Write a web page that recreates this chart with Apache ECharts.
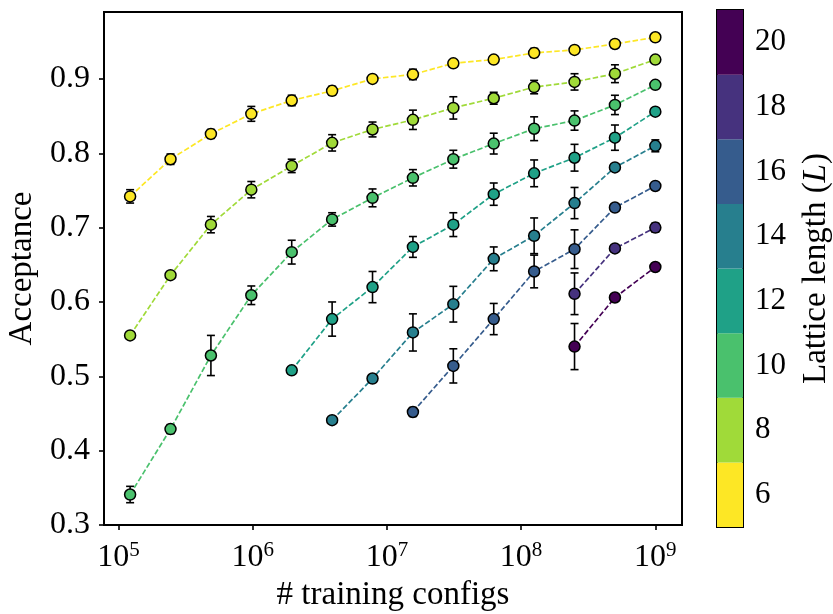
<!DOCTYPE html>
<html>
<head>
<meta charset="utf-8">
<script src="https://cdn.jsdelivr.net/npm/echarts@6/dist/echarts.min.js"></script>
<style>
  html, body { margin: 0; padding: 0; background: #fff; }
  #chart { width: 833px; height: 614px; }
</style>
</head>
<body>
<div id="chart"></div>
<script>
// number of training configs (x), shared by every lattice size
var configs = [122070, 244141, 488281, 976562, 1953125, 3906250, 7812500, 15625000,
  31250000, 62500000, 125000000, 250000000, 500000000, 1000000000]
var lattice = [6, 8, 10, 12, 14, 16, 18, 20]

// acceptance per lattice size, aligned with configs (null = not measured)
var acc6 = [0.742, 0.792, 0.826, 0.853, 0.871, 0.884, 0.900, 0.906, 0.921, 0.926, 0.935, 0.939, 0.947, 0.956]
var acc8 = [0.555, 0.636, 0.704, 0.751, 0.783, 0.814, 0.832, 0.845, 0.861, 0.874, 0.889, 0.896, 0.907, 0.926]
var acc10 = [0.341, 0.429, 0.528, 0.609, 0.667, 0.711, 0.740, 0.767, 0.792, 0.813, 0.833, 0.844, 0.865, 0.892]
var acc12 = [null, null, null, null, 0.508, 0.577, 0.620, 0.674, 0.704, 0.745, 0.773, 0.794, 0.821, 0.856]
var acc14 = [null, null, null, null, null, 0.441, 0.497, 0.559, 0.597, 0.658, 0.689, 0.733, 0.781, 0.810]
var acc16 = [null, null, null, null, null, null, null, 0.452, 0.514, 0.577, 0.641, 0.671, 0.727, 0.756]
var acc18 = [null, null, null, null, null, null, null, null, null, null, null, 0.611, 0.672, 0.700]
var acc20 = [null, null, null, null, null, null, null, null, null, null, null, 0.540, 0.606, 0.647]

// error bars (half width)
var err6 = [0.009, 0.007, 0.006, 0.010, 0.007, 0.006, 0.003, 0.007, 0.003, 0.003, 0.006, 0.004, 0.003, 0.003]
var err8 = [0.003, 0.004, 0.011, 0.011, 0.009, 0.011, 0.010, 0.013, 0.015, 0.008, 0.009, 0.011, 0.012, 0.003]
var err10 = [0.011, 0.006, 0.027, 0.0125, 0.016, 0.009, 0.012, 0.011, 0.012, 0.014, 0.016, 0.013, 0.013, 0.003]
var err12 = [null, null, null, null, 0.003, 0.023, 0.021, 0.014, 0.016, 0.015, 0.018, 0.018, 0.017, 0.003]
var err14 = [null, null, null, null, null, 0.003, 0.003, 0.025, 0.024, 0.016, 0.024, 0.021, 0.004, 0.008]
var err16 = [null, null, null, null, null, null, null, 0.006, 0.023, 0.021, 0.022, 0.026, 0.004, 0.003]
var err18 = [null, null, null, null, null, null, null, null, null, null, null, 0.028, 0.003, 0.006]
var err20 = [null, null, null, null, null, null, null, null, null, null, null, 0.031, 0.003, 0.003]

var accs = [acc6, acc8, acc10, acc12, acc14, acc16, acc18, acc20]
var errs = [err6, err8, err10, err12, err14, err16, err18, err20]

// viridis, 8 bins, L=6 (yellow) .. L=20 (purple)
var colors = ['#fde725', '#a0da39', '#4ac16d', '#1fa187', '#277f8e', '#365c8d', '#46327e', '#440154']

var font = 'Liberation Serif'

var chart = echarts.init(document.getElementById('chart'))

var series = []
lattice.forEach(function(L, i) {
  var pts = []
  var bars = []
  configs.forEach(function(x, j) {
    if (accs[i][j] == null) return
    pts.push([x, accs[i][j]])
    bars.push([x, accs[i][j], errs[i][j]])
  })
  series.push({
    type: 'custom',
    name: 'err' + L,
    xAxisIndex: 0,
    yAxisIndex: 0,
    z: 2,
    data: bars,
    renderItem: function(params, api) {
      var x = api.value(0)
      var y = api.value(1)
      var e = api.value(2)
      var lo = api.coord([x, y - e])
      var hi = api.coord([x, y + e])
      var st = { stroke: '#000', lineWidth: 1.6 }
      return {
        type: 'group',
        children: [
          { type: 'line', shape: { x1: lo[0], y1: lo[1], x2: hi[0], y2: hi[1] }, style: st },
          { type: 'line', shape: { x1: lo[0] - 4, y1: lo[1], x2: lo[0] + 4, y2: lo[1] }, style: st },
          { type: 'line', shape: { x1: hi[0] - 4, y1: hi[1], x2: hi[0] + 4, y2: hi[1] }, style: st }
        ]
      }
    }
  })
  series.push({
    type: 'line',
    name: 'L=' + L,
    xAxisIndex: 0,
    yAxisIndex: 0,
    z: 3 + i,
    data: pts,
    symbol: 'circle',
    symbolSize: 11,
    showSymbol: true,
    lineStyle: { color: colors[i], width: 1.7, type: [5.5, 2.4] },
    itemStyle: { color: colors[i], borderColor: '#000', borderWidth: 1.5 }
  })
})

// colorbar
series.push({
  type: 'bar',
  xAxisIndex: 1,
  yAxisIndex: 1,
  barCategoryGap: '0%',
  data: lattice.map(function(L, i) {
    return { value: 1, itemStyle: { color: colors[i] } }
  })
})

var option = {
  animation: false,
  grid: [
    { left: 104, right: 151, top: 12, bottom: 89, outerBoundsMode: 'none', show: true, borderColor: '#000', borderWidth: 2, backgroundColor: '#fff' },
    { left: 717, width: 26, top: 10, bottom: 87, outerBoundsMode: 'none', show: true, borderColor: '#000', borderWidth: 2 }
  ],
  xAxis: [
    {
      type: 'log',
      gridIndex: 0,
      logBase: 10,
      min: 78000,
      max: 1580000000,
      name: '# training configs',
      nameLocation: 'middle',
      nameGap: 47,
      nameTextStyle: { fontFamily: font, fontSize: 33, color: '#000' },
      axisLine: { show: true, lineStyle: { color: '#000', width: 2 } },
      axisTick: { show: true, length: 5, lineStyle: { color: '#000', width: 1.6 } },
      minorTick: { show: false },
      splitLine: { show: false },
      axisLabel: {
        showMinLabel: false,
        showMaxLabel: false,
        margin: 15,
        color: '#000',
        formatter: function(v) {
          return '{b|10}{s|' + Math.round(Math.log10(v)) + '}'
        },
        rich: {
          b: { fontFamily: font, fontSize: 32, color: '#000' },
          s: { fontFamily: font, fontSize: 21, color: '#000', padding: [0, 0, 15, 0] }
        }
      }
    },
    { type: 'value', gridIndex: 1, min: 0, max: 1, show: false }
  ],
  yAxis: [
    {
      type: 'value',
      gridIndex: 0,
      min: 0.3,
      max: 0.99,
      interval: 0.1,
      name: 'Acceptance',
      nameLocation: 'middle',
      nameGap: 61,
      nameRotate: 90,
      nameTextStyle: { fontFamily: font, fontSize: 33, color: '#000' },
      axisLine: { show: true, lineStyle: { color: '#000', width: 2 } },
      axisTick: { show: true, length: 5, lineStyle: { color: '#000', width: 1.6 } },
      splitLine: { show: false },
      axisLabel: {
        showMaxLabel: false,
        margin: 14,
        fontFamily: font,
        fontSize: 32,
        color: '#000',
        formatter: function(v) { return v.toFixed(1) }
      }
    },
    {
      type: 'category',
      gridIndex: 1,
      position: 'right',
      data: lattice.map(String),
      name: 'Lattice length ({i|L})',
      nameLocation: 'middle',
      nameGap: 57,
      nameRotate: 90,
      nameTextStyle: {
        fontFamily: font, fontSize: 33, color: '#000',
        rich: { i: { fontFamily: font, fontSize: 33, fontStyle: 'italic', color: '#000' } }
      },
      axisLine: { show: false },
      axisTick: { show: true, alignWithLabel: true, length: 5, lineStyle: { color: '#000', width: 1.6 } },
      axisLabel: { margin: 12, fontFamily: font, fontSize: 31, color: '#000' }
    }
  ],
  series: series
}
chart.setOption(option)
</script>
</body>
</html>
